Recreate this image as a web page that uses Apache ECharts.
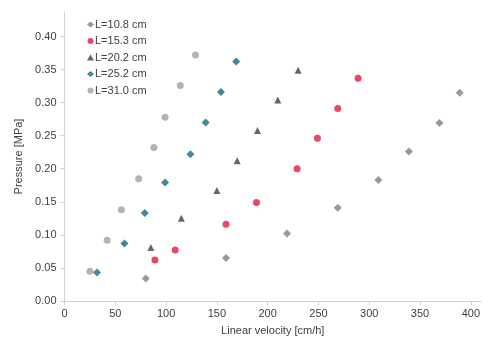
<!DOCTYPE html>
<html>
<head>
<meta charset="utf-8">
<script src="https://cdn.jsdelivr.net/npm/echarts@6/dist/echarts.min.js"></script>
<style>
  html, body { margin: 0; padding: 0; background: #fff; }
  #chart { width: 500px; height: 349px; }
</style>
</head>
<body>
<div id="chart"></div>
<script>
// Pressure drop vs. linear velocity for five column lengths
const seriesNames = ['L=10.8 cm', 'L=15.3 cm', 'L=20.2 cm', 'L=25.2 cm', 'L=31.0 cm'];

const velocity108 = [80, 159, 219, 269, 309, 339, 369, 389];
const pressure108 = [0.034, 0.065, 0.102, 0.141, 0.183, 0.226, 0.269, 0.315];

const velocity153 = [89, 109, 159, 189, 229, 249, 269, 289];
const pressure153 = [0.062, 0.077, 0.116, 0.149, 0.200, 0.246, 0.291, 0.337];

const velocity202 = [85, 115, 150, 170, 190, 210, 230];
const pressure202 = [0.081, 0.125, 0.167, 0.212, 0.258, 0.304, 0.349];

const velocity252 = [32, 59, 79, 99, 124, 139, 154, 169];
const pressure252 = [0.043, 0.087, 0.133, 0.179, 0.222, 0.270, 0.316, 0.362];

const velocity310 = [25, 42, 56, 73, 88, 99, 114, 129];
const pressure310 = [0.045, 0.092, 0.138, 0.185, 0.232, 0.278, 0.326, 0.372];

const xTitle = 'Linear velocity [cm/h]';
const yTitle = 'Pressure [MPa]';

const pairs = (xs, ys) => xs.map((x, i) => [x, ys[i]]);

const styles = [
  { symbol: 'diamond', size: 8, color: '#7f7f7f' },
  { symbol: 'circle', size: 7, color: '#e8173f' },
  { symbol: 'triangle', size: 7, color: '#404040' },
  { symbol: 'diamond', size: 8, color: '#12698a' },
  { symbol: 'circle', size: 7, color: '#a0a0a0' }
];
const dataSets = [
  pairs(velocity108, pressure108),
  pairs(velocity153, pressure153),
  pairs(velocity202, pressure202),
  pairs(velocity252, pressure252),
  pairs(velocity310, pressure310)
];

const font = 'Liberation Sans, Arial, sans-serif';
const chart = echarts.init(document.getElementById('chart'), null, { renderer: 'canvas' });

chart.setOption({
  animation: false,
  backgroundColor: '#fff',
  textStyle: { fontFamily: font },
  legend: {
    orient: 'vertical',
    left: 82,
    top: 14,
    itemWidth: 7,
    itemHeight: 6,
    itemGap: 5.5,
    textStyle: { fontSize: 11, color: '#404040', fontFamily: font, padding: [0, 0, 0, -4] },
    data: seriesNames.map((n, i) => ({ name: n, icon: styles[i].symbol }))
  },
  grid: { left: 64.5, right: 19, top: 12, bottom: 48 },
  xAxis: {
    type: 'value',
    min: 0,
    max: 410,
    interval: 50,
    name: xTitle,
    nameLocation: 'middle',
    nameGap: 24,
    nameTextStyle: { fontSize: 11, color: '#404040', fontFamily: font },
    axisLine: { lineStyle: { color: '#d0d0d0' } },
    axisTick: { show: true, length: 4, lineStyle: { color: '#d0d0d0' } },
    axisLabel: { fontSize: 11, color: '#404040', margin: 7, showMaxLabel: false },
    splitLine: { show: false }
  },
  yAxis: {
    type: 'value',
    min: 0,
    max: 0.437,
    interval: 0.05,
    name: yTitle,
    nameLocation: 'middle',
    nameGap: 39,
    nameTextStyle: { fontSize: 11, color: '#404040', fontFamily: font },
    axisLine: { show: true, lineStyle: { color: '#d0d0d0' } },
    axisTick: { show: true, length: 4, lineStyle: { color: '#d0d0d0' } },
    axisLabel: { fontSize: 11, color: '#404040', margin: 8, showMaxLabel: false,
      formatter: v => v.toFixed(2) },
    splitLine: { show: false }
  },
  series: seriesNames.map((n, i) => ({
    name: n,
    type: 'scatter',
    symbol: styles[i].symbol,
    symbolSize: styles[i].size,
    itemStyle: { color: styles[i].color },
    data: dataSets[i]
  }))
});
</script>
</body>
</html>
